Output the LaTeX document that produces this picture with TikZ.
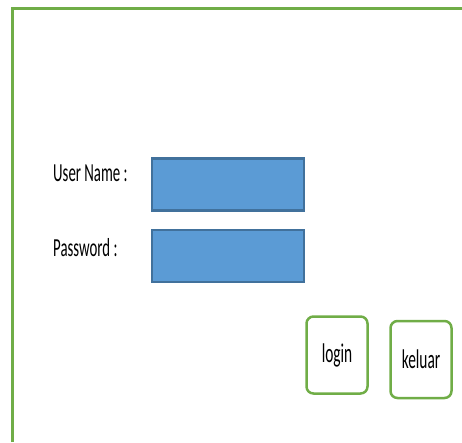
\documentclass[tikz,border=0pt]{standalone}
\usepackage{fontspec}
\setmainfont[FakeStretch=0.57]{Carlito}
\usetikzlibrary{
    positioning% wg. " of "
}
\definecolor{frmgreen}{HTML}{70AD47}
\definecolor{fldblue}{HTML}{5B9BD5}
\definecolor{fldedge}{HTML}{41719C}

\tikzset{
    field/.style={draw=fldedge, fill=fldblue, line width=2.5pt,
        minimum width=152pt, minimum height=52pt, inner sep=0pt},
    lbl/.style={anchor=base west, inner sep=0pt, font=\fontsize{26}{28}\selectfont},
    btn/.style={draw=frmgreen, line width=2.5pt, rounded corners=7pt,
        minimum width=61pt, minimum height=77pt, inner sep=0pt,
        font=\fontsize{27}{29}\selectfont}
}

\begin{document}
\begin{tikzpicture}[x=1pt,y=-1pt]
    \useasboundingbox (0,0) rectangle (462,442);

    \draw[frmgreen, line width=3pt] (12,442) %%% outer frame
    -- (12,8) -- (462,8);

    \node[field] (user) at (228,184.5) {};
    \node[field] (pass) at (228,256) {};

    \node[lbl] (userlbl) at (53,181) {User Name :};
    \node[lbl] (passlbl) at (53,256) {Password :};

    \node[btn] (login) at (337,355) {login};
    \node[btn] (keluar) at (421,359.5) {keluar};
\end{tikzpicture}
\end{document}
